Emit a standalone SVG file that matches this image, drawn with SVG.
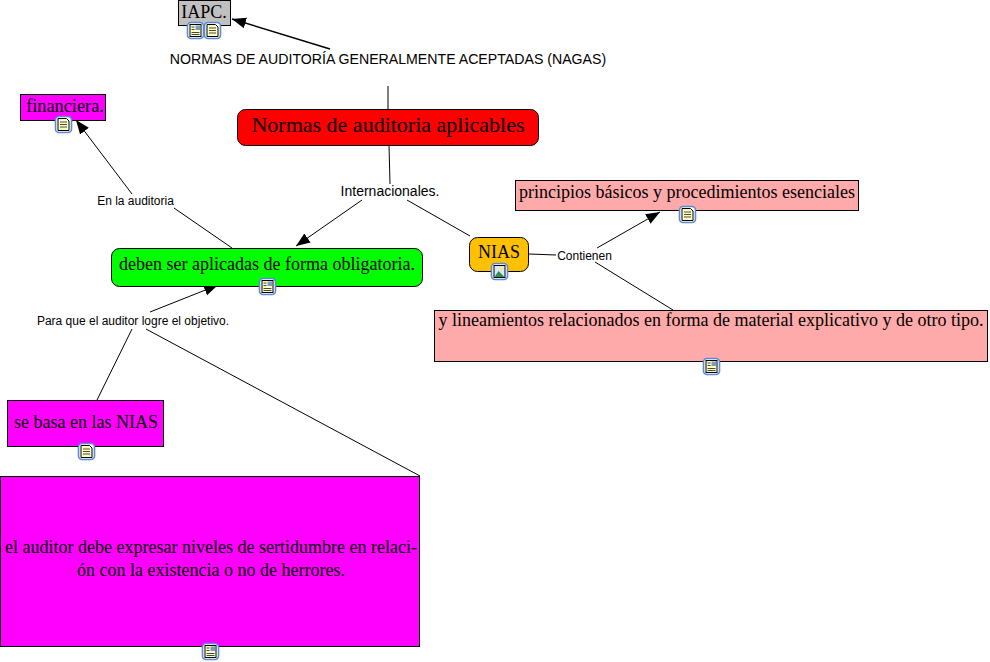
<svg xmlns="http://www.w3.org/2000/svg" width="990" height="662" viewBox="0 0 990 662">
<style>
.n{stroke:#000;stroke-width:1}
.t{font-family:"Liberation Serif","Times New Roman",serif;text-anchor:middle;fill:#000}
.l{font-family:"Liberation Sans",Arial,sans-serif;text-anchor:middle;fill:#000}
.c{fill:none;stroke:#000;stroke-width:1}
.ib{fill:#fff;stroke:#5a8ad8;stroke-width:1.6}
.pg{fill:#ffffc4;stroke:#000;stroke-width:1}
.ln{stroke:#333;stroke-width:.9;fill:none}
</style>
<defs>
<marker id="a" markerUnits="userSpaceOnUse" markerWidth="15" markerHeight="12" refX="14" refY="6" orient="auto"><path d="M0 0.5L14 6L0 11.5z" fill="#000"/></marker>
<g id="doc"><rect class="ib" x="-8" y="-8" width="16" height="16" rx="3.5"/><path class="pg" d="M-5.500 -6H3L5.500 -3.500V6H-5.500z"/><path class="ln" d="M-3.500 -2.500H3.500M-3.500 0H3.500M-3.500 2.500H3.500"/></g>
<g id="mix"><rect class="ib" x="-8" y="-8" width="16" height="16" rx="3.5"/><rect class="pg" x="-5.500" y="-6" width="11" height="12"/><path class="ln" d="M-4 -3.500H-1M-4 -1H-1M-4 2H4M-4 4H4"/><rect x="0" y="-5" width="4.500" height="4.500" fill="#7b9ac6"/></g>
<g id="img"><rect class="ib" x="-8" y="-8" width="16" height="16" rx="3.5"/><rect x="-5.500" y="-6" width="11" height="12" fill="#d5eaf7" stroke="#000"/><path d="M-5 5.500L-1 -.5L5 5.500z" fill="#2e8b57"/><circle cx="2" cy="-3" r="1.700" fill="#ffe680"/></g>
</defs>
<g id="connectors">
<path class="c" style="stroke-width:1.400" d="M330 49L232 19" marker-end="url(#a)"/>
<path class="c" d="M388 86V109"/>
<path class="c" d="M389 145L390 184"/>
<path class="c" d="M362 200L296 246" marker-end="url(#a)"/>
<path class="c" d="M407 200L470 236"/>
<path class="c" d="M132 194L76 120" marker-end="url(#a)"/>
<path class="c" d="M232 248L174 208"/>
<path class="c" d="M529 254L556 255"/>
<path class="c" d="M597 248L660 212" marker-end="url(#a)"/>
<path class="c" d="M595 262L673 310"/>
<path class="c" d="M150 312L218 285" marker-end="url(#a)"/>
<path class="c" d="M132 329L97 400"/>
<path class="c" d="M146 329L420 476"/>
</g>
<g id="iapc"><rect class="n" x="178.500" y="0.500" width="52" height="25" fill="#c0c0c0"/><text class="t" x="204" y="18" font-size="18">IAPC.</text><use href="#mix" x="195.500" y="30.500"/><use href="#doc" x="212.500" y="30.500"/></g>
<g id="nagas"><text class="l" x="388" y="64" font-size="14.150">NORMAS DE AUDITORÍA GENERALMENTE ACEPTADAS (NAGAS)</text></g>
<g id="normas"><rect class="n" x="237.500" y="109.500" width="301" height="36" rx="8" fill="#ff0000"/><text class="t" x="388" y="132" font-size="22">Normas de auditoria aplicables</text></g>
<g id="financiera"><rect class="n" x="20.500" y="94.500" width="85" height="26" fill="#ff00ff"/><text class="t" x="65" y="112" font-size="18.300">financiera.</text><use href="#doc" x="63.500" y="124.500"/></g>
<g id="internacionales"><text class="l" x="390" y="196" font-size="14">Internacionales.</text></g>
<g id="en-la-auditoria"><text class="l" x="135.500" y="205" font-size="12">En la auditoria</text></g>
<g id="obligatoria"><rect class="n" x="111.500" y="248.500" width="311" height="38" rx="8" fill="#00ff00"/><text class="t" x="267" y="270" font-size="18">deben ser aplicadas de forma obligatoria.</text><use href="#mix" x="267.500" y="286.500"/></g>
<g id="nias"><rect class="n" x="469.500" y="237.500" width="59" height="34" rx="8" fill="#ffc000"/><text class="t" x="499" y="258" font-size="18">NIAS</text><use href="#img" x="499.500" y="271.500"/></g>
<g id="contienen"><text class="l" x="584.500" y="260" font-size="12">Contienen</text></g>
<g id="principios"><rect class="n" x="515.500" y="180.500" width="343" height="30" fill="#ffaaaa"/><text class="t" x="687" y="198" font-size="18">principios básicos y procedimientos esenciales</text><use href="#doc" x="687.500" y="214.500"/></g>
<g id="lineamientos"><rect class="n" x="434.500" y="310.500" width="553" height="51" fill="#ffaaaa"/><text class="t" x="711" y="326" font-size="18">y lineamientos relacionados en forma de material explicativo y de otro tipo.</text><use href="#mix" x="711.500" y="366.500"/></g>
<g id="objetivo"><text class="l" x="133" y="325" font-size="12">Para que el auditor logre el objetivo.</text></g>
<g id="basa"><rect class="n" x="7.500" y="400.500" width="156" height="46" fill="#ff00ff"/><text class="t" x="86" y="428" font-size="18">se basa en las NIAS</text><use href="#doc" x="86.500" y="451.500"/></g>
<g id="sertidumbre"><rect class="n" x="0.500" y="476.500" width="419" height="170" fill="#ff00ff"/><text class="t" x="211" y="553" font-size="18">el auditor debe expresar niveles de sertidumbre en relaci-</text><text class="t" x="211" y="576" font-size="18">ón con la existencia o no de herrores.</text><use href="#mix" x="210.500" y="651.500"/></g>
</svg>
